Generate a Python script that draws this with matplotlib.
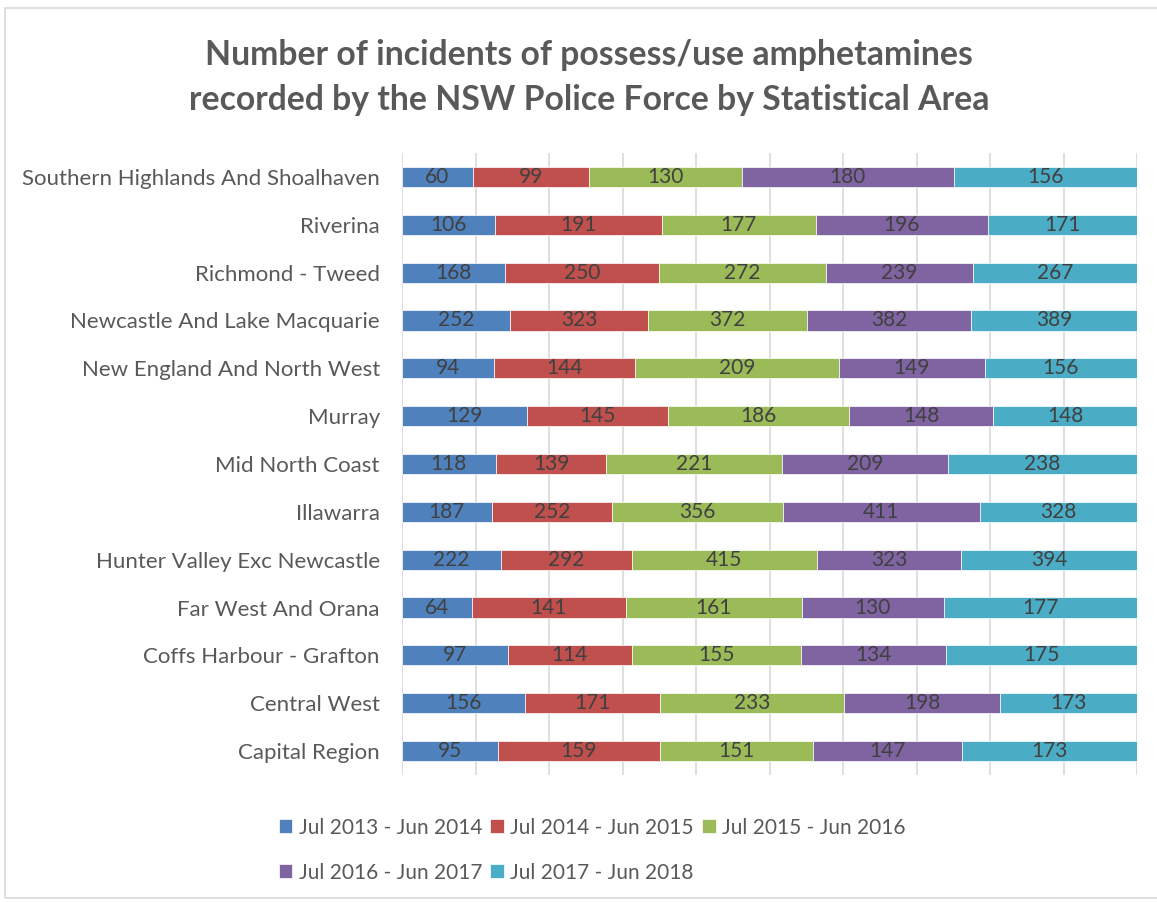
import matplotlib
matplotlib.use('Agg')
import matplotlib.pyplot as plt
from matplotlib.patches import Rectangle
import numpy as np

plt.rcParams['font.family'] = ['Lato', 'DejaVu Sans']

# Statistical areas, bottom to top as drawn
areas = ['Capital Region', 'Central West', 'Coffs Harbour - Grafton',
         'Far West And Orana', 'Hunter Valley Exc Newcastle', 'Illawarra',
         'Mid North Coast', 'Murray', 'New England And North West',
         'Newcastle And Lake Macquarie', 'Richmond - Tweed', 'Riverina',
         'Southern Highlands And Shoalhaven']

periods = ['Jul 2013 - Jun 2014', 'Jul 2014 - Jun 2015', 'Jul 2015 - Jun 2016',
           'Jul 2016 - Jun 2017', 'Jul 2017 - Jun 2018']

y2014 = [95, 156, 97, 64, 222, 187, 118, 129, 94, 252, 168, 106, 60]
y2015 = [159, 171, 114, 141, 292, 252, 139, 145, 144, 323, 250, 191, 99]
y2016 = [151, 233, 155, 161, 415, 356, 221, 186, 209, 372, 272, 177, 130]
y2017 = [147, 198, 134, 130, 323, 411, 209, 148, 149, 382, 239, 196, 180]
y2018 = [173, 173, 175, 177, 394, 328, 238, 148, 156, 389, 267, 171, 156]

colors = ['#4F81BD', '#C0504D', '#9BBB59', '#8064A2', '#4BACC6']

series = np.array([y2014, y2015, y2016, y2017, y2018], dtype=float)
totals = series.sum(axis=0)
shares = series / totals

fig = plt.figure(figsize=(11.57, 9.02), dpi=100)
fig.patches.append(Rectangle((5 / 1157, 0.004), 1.2, 1 - 8 / 902 - 0.004,
                             transform=fig.transFigure, fill=False,
                             edgecolor='#D9D9D9', linewidth=1.2))

ax = fig.add_axes([402 / 1157, 1 - 775 / 902, (1137 - 402) / 1157, (775 - 153) / 902])

ypos = np.arange(len(areas))
left = np.zeros(len(areas))
bars = []
for i in range(len(periods)):
    b = ax.barh(ypos, shares[i], left=left, height=0.42, color=colors[i],
                edgecolor='white', linewidth=0.5, label=periods[i], zorder=3)
    bars.append(b)
    for j in range(len(areas)):
        ax.text(left[j] + shares[i][j] / 2, ypos[j], '%d' % series[i][j],
                ha='center', va='center', fontsize=15, color='#404040', zorder=4)
    left += shares[i]

ax.set_xlim(0, 1)
ax.set_ylim(-0.5, len(areas) - 0.5)
ax.set_xticks(np.linspace(0, 1, 11))
ax.set_xticklabels([])
ax.tick_params(axis='x', length=0)
ax.tick_params(axis='y', length=0, pad=16, labelsize=16, labelcolor='#595959')
ax.set_yticks(ypos)
ax.set_yticklabels(areas)
ax.grid(axis='x', color='#D9D9D9', linewidth=1.2, zorder=0)
for s in ax.spines.values():
    s.set_visible(False)

fig.text(0.509, 1 - 55 / 902, 'Number of incidents of possess/use amphetamines',
         ha='center', va='center', fontsize=24.3, fontweight='bold', color='#595959')
fig.text(0.509, 1 - 100 / 902, 'recorded by the NSW Police Force by Statistical Area',
         ha='center', va='center', fontsize=24.3, fontweight='bold', color='#595959')

# legend fills column-wise, so reorder to read across rows
handles = [bars[k] for k in [0, 3, 1, 4, 2]]
labels = [periods[k] for k in [0, 3, 1, 4, 2]]
leg = fig.legend(handles, labels, ncol=3, loc='upper left',
                 bbox_to_anchor=(260 / 1157, 1 - 799 / 902), frameon=False,
                 fontsize=15, handlelength=0.65, handleheight=0.65,
                 handletextpad=0.3, columnspacing=0.4, labelspacing=1.2)
for t in leg.get_texts():
    t.set_color('#595959')

fig.savefig('out.png', dpi=100)
